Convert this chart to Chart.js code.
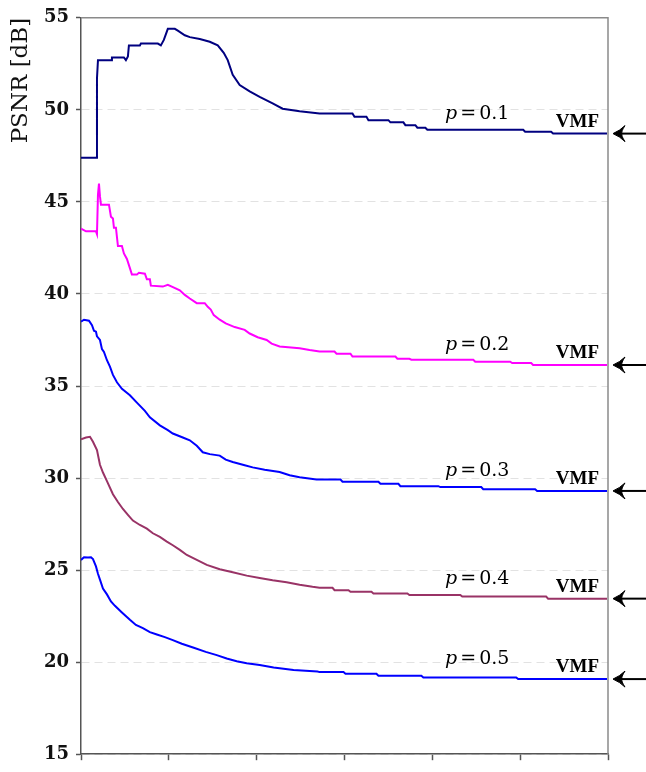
<!DOCTYPE html>
<html>
<head>
<meta charset="utf-8">
<script src="https://cdn.jsdelivr.net/npm/chart.js@4.4.0/dist/chart.umd.min.js"></script>
<style>
  html, body { margin: 0; padding: 0; background: #fff; }
</style>
</head>
<body>
<canvas id="myChart" width="646" height="772"></canvas>
<script>
// x positions are in iteration units (axis shows ticks only, no labels)
var p1X = [0,16,16,17,31,31,43,45,47,48,59,60,77,80,83,87,94,97,104,109,119,129,137,143,147,152,159,169,179,192,202,219,239,272,274,286,288,308,310,323,325,335,337,345,347,443,445,471,473,527];
var p1Y = [47.4,47.4,51.7,52.7,52.7,52.85,52.85,52.7,52.9,53.5,53.5,53.6,53.6,53.5,53.8,54.4,54.4,54.3,54.05,53.95,53.85,53.7,53.5,53.1,52.7,51.9,51.35,51.0,50.7,50.35,50.06,49.92,49.8,49.8,49.62,49.62,49.44,49.44,49.32,49.32,49.17,49.17,49.03,49.03,48.92,48.92,48.81,48.81,48.71,48.71];

var p2X = [0,5,15,16,17,18,19,20,28,30,32,33,35,37,41,43,46,49,51,56,58,64,66,69,70,82,87,91,99,104,109,116,124,127,130,133,139,145,154,164,169,177,186,191,199,219,229,239,254,256,270,272,315,317,329,331,393,395,430,432,451,453,527];
var p2Y = [43.55,43.4,43.4,43.25,45.4,46.0,45.3,44.85,44.85,44.2,44.1,43.6,43.6,42.6,42.6,42.2,41.9,41.4,41.05,41.05,41.15,41.1,40.8,40.8,40.45,40.4,40.5,40.4,40.2,39.95,39.75,39.5,39.5,39.3,39.15,38.85,38.6,38.4,38.2,38.05,37.85,37.65,37.5,37.3,37.15,37.05,36.95,36.87,36.87,36.75,36.75,36.6,36.6,36.48,36.48,36.43,36.43,36.32,36.32,36.25,36.25,36.14,36.14];

var p3X = [0,3,8,11,13,15,16,19,21,23,26,29,32,36,41,49,56,64,69,79,87,92,102,109,116,122,129,139,145,152,164,172,184,199,209,219,236,260,262,298,300,318,320,358,360,401,403,455,457,527];
var p3Y = [38.5,38.6,38.55,38.3,38.0,37.95,37.7,37.5,37.0,36.85,36.4,36.05,35.6,35.2,34.85,34.5,34.1,33.65,33.3,32.86,32.6,32.42,32.2,32.05,31.75,31.4,31.3,31.22,31.0,30.87,30.7,30.58,30.45,30.33,30.15,30.04,29.92,29.92,29.8,29.8,29.69,29.69,29.56,29.56,29.51,29.51,29.39,29.39,29.3,29.3];

var p4X = [0,5,9,12,16,19,22,26,32,37,42,47,52,59,66,72,79,86,92,99,106,116,126,139,152,166,179,192,206,219,232,239,252,254,268,270,291,293,327,329,380,382,466,468,527];
var p4Y = [32.11,32.2,32.24,31.97,31.52,30.72,30.3,29.83,29.12,28.7,28.32,28.0,27.69,27.45,27.25,27.0,26.8,26.55,26.35,26.1,25.82,25.55,25.28,25.05,24.88,24.7,24.57,24.45,24.34,24.2,24.09,24.04,24.04,23.91,23.91,23.82,23.82,23.73,23.73,23.65,23.65,23.56,23.56,23.45,23.45];

var p5X = [0,3,7,10,12,15,17,19,22,26,30,34,41,49,55,62,69,76,84,92,101,113,125,136,146,156,166,179,193,213,237,239,263,265,296,298,341,343,436,438,527];
var p5Y = [25.55,25.7,25.68,25.7,25.6,25.2,24.8,24.48,24.0,23.68,23.3,23.06,22.7,22.3,22.02,21.85,21.63,21.5,21.36,21.2,21.0,20.78,20.56,20.38,20.2,20.05,19.94,19.85,19.71,19.58,19.49,19.46,19.46,19.37,19.37,19.26,19.26,19.17,19.17,19.08,19.08];

var pValues = ['0.1', '0.2', '0.3', '0.4', '0.5'];
var lineColors = ['#000080', '#ff00ff', '#0000ff', '#993366', '#0000ff'];
var yTicks = [15, 20, 25, 30, 35, 40, 45, 50, 55];

function toPoints(xs, ys) {
    return xs.map(function (x, i) { return { x: x, y: ys[i] }; });
}

var seriesX = [p1X, p2X, p3X, p4X, p5X];
var seriesY = [p1Y, p2Y, p3Y, p4Y, p5Y];

var datasets = pValues.map(function (p, i) {
    return {
        label: 'p=' + p,
        data: toPoints(seriesX[i], seriesY[i]),
        borderColor: lineColors[i],
        backgroundColor: 'transparent',
        borderWidth: 2,
        pointRadius: 0,
        tension: 0
    };
});

// frame, p labels, VMF labels and arrows on the right
var annotate = {
    id: 'annotate',
    afterDatasetsDraw: function (chart) {
        var ctx = chart.ctx;
        var area = chart.chartArea;
        var xs = chart.scales.x, ys = chart.scales.y;
        ctx.save();
        ctx.strokeStyle = '#8a8a8a';
        ctx.lineWidth = 1.5;
        ctx.beginPath();
        ctx.moveTo(area.left, area.top);
        ctx.lineTo(area.right, area.top);
        ctx.lineTo(area.right, area.bottom);
        ctx.stroke();

        chart.data.datasets.forEach(function (ds, i) {
            var last = ds.data[ds.data.length - 1];
            var ly = ys.getPixelForValue(last.y);
            var cx = xs.getPixelForValue(397);

            // p=0.x label
            ctx.fillStyle = '#000';
            ctx.textBaseline = 'alphabetic';
            ctx.textAlign = 'left';
            var italic = 'italic 19px "DejaVu Serif"';
            var roman = '19px "DejaVu Serif"';
            ctx.font = italic;
            var wp = ctx.measureText('p').width;
            ctx.font = roman;
            var we = ctx.measureText('=').width;
            var wv = ctx.measureText(pValues[i]).width;
            var gap = 3;
            var x0 = cx - (wp + we + wv + 2 * gap) / 2;
            var by = ly - 15;
            ctx.font = italic;
            ctx.fillText('p', x0, by);
            ctx.font = roman;
            ctx.fillText('=', x0 + wp + gap, by);
            ctx.fillText(pValues[i], x0 + wp + we + 2 * gap, by);

            // VMF label
            ctx.font = 'bold 19px "Liberation Serif"';
            ctx.textAlign = 'right';
            ctx.fillText('VMF', area.right - 9, ly - 7);

            // arrow
            var tip = area.right + 5;
            ctx.strokeStyle = '#000';
            ctx.lineWidth = 2;
            ctx.beginPath();
            ctx.moveTo(tip + 8, ly);
            ctx.lineTo(chart.width, ly);
            ctx.stroke();
            ctx.beginPath();
            ctx.moveTo(tip, ly);
            ctx.quadraticCurveTo(tip + 7, ly - 3, tip + 12, ly - 8);
            ctx.quadraticCurveTo(tip + 8, ly - 2, tip + 9, ly);
            ctx.quadraticCurveTo(tip + 8, ly + 2, tip + 12, ly + 8);
            ctx.quadraticCurveTo(tip + 7, ly + 3, tip, ly);
            ctx.closePath();
            ctx.fill();
            ctx.lineWidth = 1;
            ctx.stroke();
        });
        ctx.restore();
    }
};

var ctx = document.getElementById('myChart').getContext('2d');
var myChart = new Chart(ctx, {
    type: 'line',
    data: { datasets: datasets },
    options: {
        responsive: false,
        animation: false,
        layout: { padding: { top: 16, right: 38, bottom: 0, left: 0 } },
        plugins: {
            legend: { display: false },
            tooltip: { enabled: false }
        },
        scales: {
            x: {
                type: 'linear',
                min: 0,
                max: 528,
                ticks: { display: false, stepSize: 88 },
                grid: { drawOnChartArea: false, drawTicks: true, tickLength: 6, tickColor: '#555', tickWidth: 1.5 },
                border: { color: '#555', width: 1.5 },
                afterFit: function (scale) { scale.height = 8; }
            },
            y: {
                min: 15,
                max: 55,
                afterBuildTicks: function (scale) {
                    scale.ticks = yTicks.map(function (v) { return { value: v }; });
                },
                ticks: {
                    color: '#111',
                    padding: 7,
                    font: { family: '"DejaVu Serif"', size: 18, weight: 'bold' }
                },
                grid: { color: '#e2e2e2', lineWidth: 1, tickLength: 5, tickColor: '#555', tickWidth: 1.5 },
                border: { color: '#555', width: 1.5, dash: [8, 5] },
                title: {
                    display: true,
                    text: 'PSNR [dB]',
                    align: 'end',
                    color: '#111',
                    padding: { top: 7, bottom: 0 },
                    font: { family: '"DejaVu Serif"', size: 23, weight: 'normal' }
                },
                afterFit: function (scale) { scale.width = 81; }
            }
        }
    },
    plugins: [annotate]
});
</script>
</body>
</html>
